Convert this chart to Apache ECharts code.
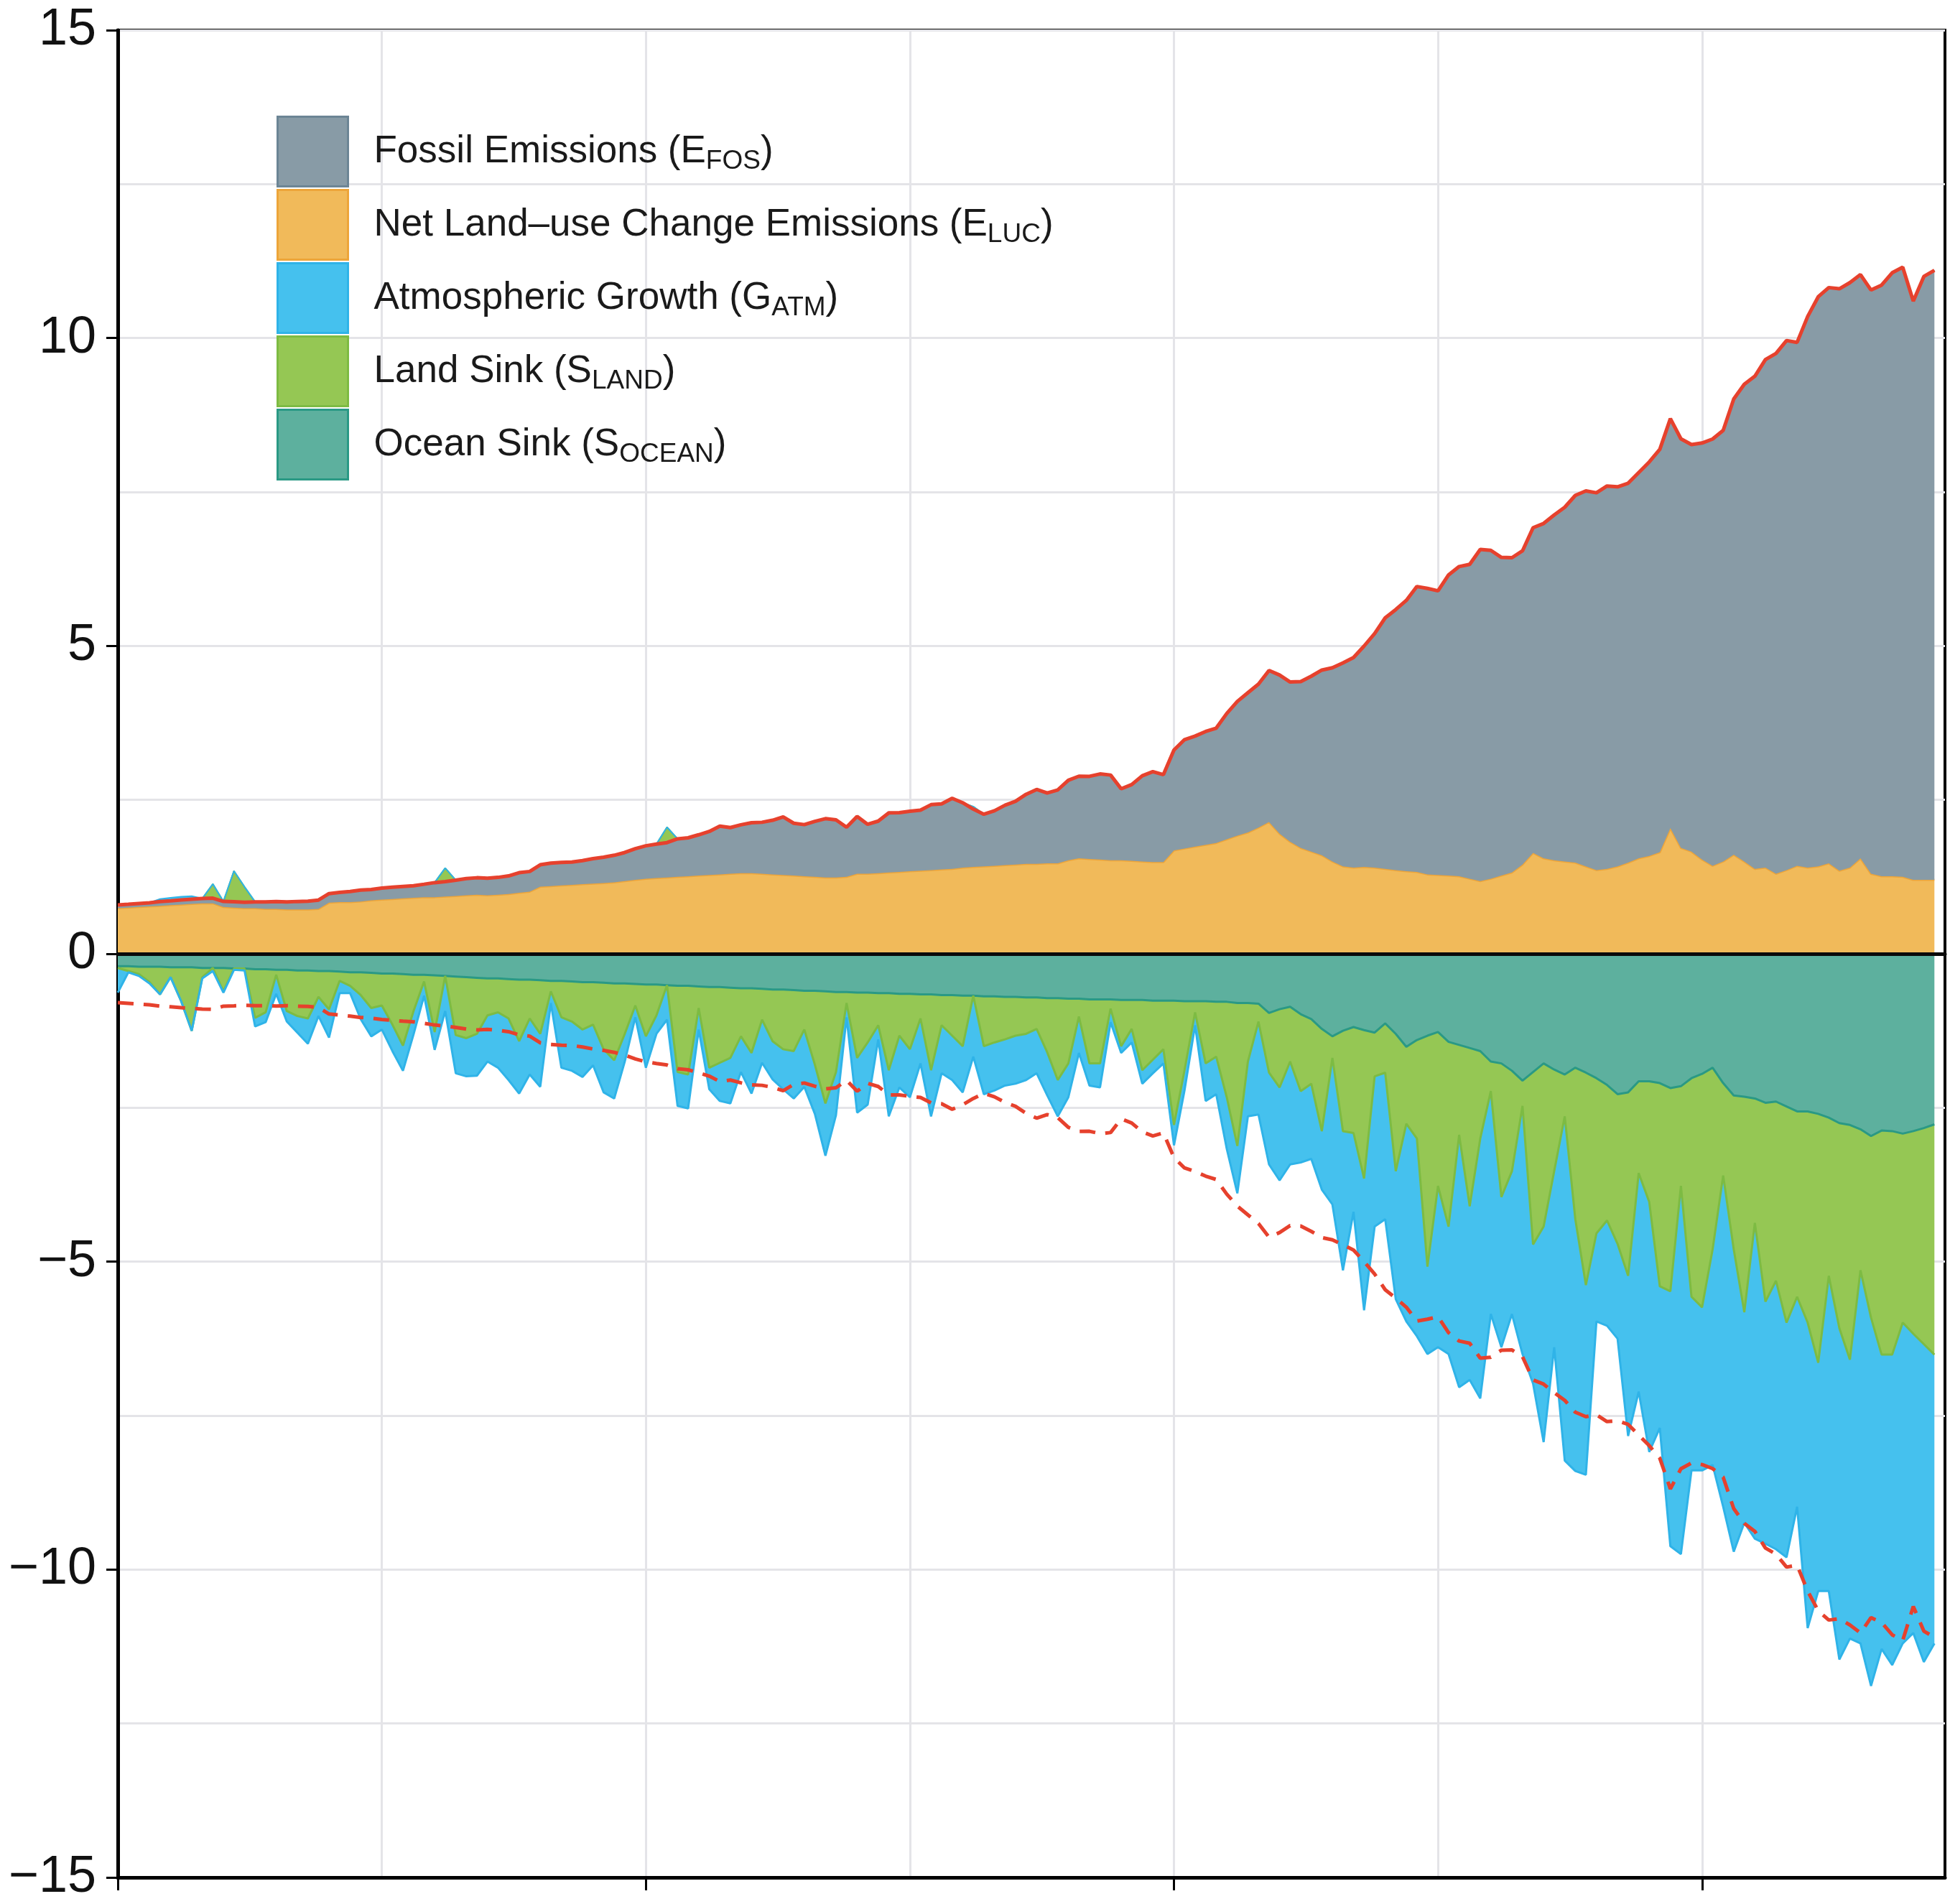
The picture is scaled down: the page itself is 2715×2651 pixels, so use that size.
<!DOCTYPE html>
<html>
<head>
<meta charset="utf-8">
<script src="https://cdn.jsdelivr.net/npm/echarts/dist/echarts.min.js"></script>
<style>
html,body{margin:0;padding:0;background:#ffffff;}
#chart{width:2715px;height:2651px;}
</style>
</head>
<body>
<div id="chart"></div>
<script>
// ---- categories (years 1850..2023; data run 1850..2022) ----
const years = [];
for (let y = 1850; y <= 2023; y++) years.push(String(y));

// ---- Fossil emissions E_FOS (GtC/yr), 1850..2022 ----
const fossil = [
0.054,0.054,0.057,0.059,0.069,0.071,0.076,0.077,0.078,0.083,
0.091,0.095,0.097,0.104,0.112,0.119,0.122,0.130,0.135,0.142,
0.147,0.156,0.173,0.184,0.174,0.188,0.191,0.194,0.196,0.210,
0.236,0.243,0.256,0.272,0.275,0.277,0.281,0.295,0.327,0.327,
0.356,0.372,0.374,0.370,0.383,0.406,0.419,0.440,0.465,0.507,
0.534,0.552,0.566,0.617,0.624,0.663,0.707,0.784,0.750,0.785,
0.819,0.836,0.879,0.943,0.850,0.838,0.901,0.955,0.936,0.806,
0.932,0.803,0.845,0.970,0.963,0.975,0.983,1.062,1.065,1.145,
1.053,0.940,0.847,0.893,0.973,1.027,1.130,1.209,1.142,1.192,
1.299,1.334,1.342,1.391,1.383,1.160,1.238,1.392,1.469,1.419,
1.630,1.768,1.796,1.841,1.865,2.043,2.178,2.270,2.330,2.462,
2.577,2.594,2.700,2.848,3.008,3.145,3.305,3.411,3.588,3.800,
4.076,4.231,4.399,4.635,4.644,4.615,4.883,5.029,5.105,5.387,
5.332,5.168,5.113,5.094,5.280,5.439,5.607,5.752,5.965,6.097,
6.127,6.217,6.164,6.162,6.266,6.398,6.542,6.651,6.643,6.610,
6.765,6.930,7.000,7.400,7.750,8.000,8.250,8.450,8.600,8.500,
8.950,9.250,9.350,9.450,9.500,9.480,9.480,9.600,9.800,9.900,
9.400,9.800,9.900];

// ---- Net land-use change emissions E_LUC ----
const landUse = [
0.74,0.75,0.76,0.77,0.78,0.79,0.80,0.81,0.82,0.82,
0.76,0.75,0.74,0.74,0.73,0.73,0.72,0.72,0.72,0.73,
0.83,0.84,0.84,0.85,0.87,0.88,0.89,0.90,0.91,0.92,
0.92,0.93,0.94,0.95,0.96,0.95,0.96,0.97,0.99,1.01,
1.09,1.10,1.11,1.12,1.13,1.14,1.15,1.16,1.18,1.20,
1.22,1.23,1.24,1.25,1.26,1.27,1.28,1.29,1.30,1.31,
1.31,1.30,1.29,1.28,1.27,1.26,1.25,1.24,1.24,1.25,
1.30,1.30,1.31,1.32,1.33,1.34,1.35,1.36,1.37,1.38,
1.40,1.41,1.42,1.43,1.44,1.45,1.46,1.46,1.47,1.47,
1.52,1.55,1.54,1.53,1.52,1.52,1.51,1.50,1.49,1.49,
1.68,1.71,1.74,1.77,1.80,1.86,1.92,1.97,2.05,2.14,
1.95,1.82,1.72,1.66,1.60,1.50,1.42,1.40,1.41,1.40,
1.38,1.36,1.34,1.33,1.29,1.28,1.27,1.26,1.22,1.18,
1.22,1.27,1.32,1.45,1.64,1.55,1.52,1.50,1.48,1.42,
1.36,1.38,1.42,1.48,1.55,1.59,1.65,2.04,1.72,1.66,
1.53,1.43,1.50,1.61,1.50,1.38,1.40,1.30,1.36,1.43,
1.40,1.42,1.47,1.35,1.40,1.55,1.30,1.26,1.26,1.25,
1.20,1.20,1.20];

// ---- Ocean sink S_OCEAN (plotted negative) ----
const ocean = [
-0.20,-0.20,-0.21,-0.21,-0.21,-0.22,-0.22,-0.22,-0.23,-0.23,
-0.23,-0.24,-0.24,-0.25,-0.25,-0.26,-0.26,-0.27,-0.27,-0.28,
-0.28,-0.29,-0.30,-0.30,-0.31,-0.32,-0.32,-0.33,-0.34,-0.34,
-0.35,-0.36,-0.37,-0.38,-0.39,-0.40,-0.40,-0.41,-0.42,-0.42,
-0.43,-0.44,-0.44,-0.45,-0.46,-0.46,-0.47,-0.48,-0.48,-0.49,
-0.50,-0.50,-0.51,-0.52,-0.52,-0.53,-0.54,-0.54,-0.55,-0.56,
-0.56,-0.57,-0.58,-0.58,-0.59,-0.60,-0.60,-0.61,-0.62,-0.62,
-0.63,-0.63,-0.64,-0.64,-0.65,-0.65,-0.66,-0.66,-0.67,-0.67,
-0.68,-0.68,-0.69,-0.69,-0.70,-0.70,-0.71,-0.71,-0.72,-0.72,
-0.73,-0.73,-0.74,-0.74,-0.74,-0.75,-0.75,-0.75,-0.76,-0.76,
-0.76,-0.77,-0.77,-0.77,-0.78,-0.78,-0.80,-0.80,-0.81,-0.96,
-0.90,-0.86,-0.98,-1.06,-1.22,-1.34,-1.25,-1.19,-1.24,-1.28,
-1.13,-1.30,-1.51,-1.40,-1.33,-1.27,-1.43,-1.48,-1.53,-1.58,
-1.75,-1.78,-1.90,-2.06,-1.92,-1.78,-1.88,-1.96,-1.85,-1.93,
-2.02,-2.13,-2.28,-2.25,-2.07,-2.07,-2.10,-2.18,-2.15,-2.02,
-1.95,-1.85,-2.10,-2.30,-2.32,-2.35,-2.42,-2.40,-2.48,-2.56,
-2.56,-2.60,-2.66,-2.75,-2.78,-2.85,-2.96,-2.87,-2.88,-2.92,
-2.88,-2.83,-2.77];

// ---- Land sink S_LAND (negative = sink, positive years drawn on top) ----
const land = [
-0.03,-0.08,-0.12,-0.25,-0.45,-0.16,-0.55,-1.03,-0.15,0.23,
-0.38,0.50,0.25,-0.79,-0.70,-0.08,-0.67,-0.74,-0.78,-0.42,
-0.62,-0.15,-0.22,-0.37,-0.57,-0.52,-0.83,-1.16,-0.59,-0.11,
-0.92,0.22,-0.95,-0.99,-0.91,-0.60,-0.55,-0.64,-1.00,-0.63,
-0.87,-0.17,-0.59,-0.65,-0.77,-0.69,-1.08,-1.25,-0.82,-0.35,
-0.84,-0.50,0.25,-1.40,-1.44,-0.35,-1.31,-1.23,-1.14,-0.78,
-1.05,-0.50,-0.84,-0.97,-0.99,-0.63,-1.20,-1.82,-1.30,-0.18,
-1.06,-0.81,-0.52,-1.25,-0.68,-0.90,-0.39,-1.23,-0.49,-0.66,
-0.82,0.04,-0.81,-0.75,-0.69,-0.63,-0.59,-0.51,-0.88,-1.33,
-1.05,-0.29,-1.04,-1.04,-0.15,-0.75,-0.47,-1.14,-0.96,-0.79,
-2.02,-1.12,-0.18,-1.01,-0.89,-1.55,-2.32,-0.95,-0.29,-0.97,
-1.27,-0.89,-1.25,-1.05,-1.66,-0.35,-1.63,-1.72,-2.41,-0.71,
-0.80,-2.23,-1.25,-1.60,-3.75,-2.50,-3.00,-1.46,-2.57,-1.42,
-0.48,-2.17,-1.63,-0.41,-2.80,-2.65,-1.65,-0.68,-2.46,-3.45,
-2.52,-2.20,-2.43,-2.98,-1.49,-1.96,-3.30,-3.30,-1.62,-3.55,
-3.79,-2.95,-1.50,-2.50,-3.50,-2.02,-3.23,-2.91,-3.51,-3.01,
-3.43,-4.04,-2.57,-3.33,-3.81,-2.29,-2.95,-3.64,-3.63,-3.07,
-3.29,-3.51,-3.74];

// ---- Atmospheric growth G_ATM (plotted negative) ----
const atmosphere = [
-0.40,-0.02,-0.03,-0.02,0.04,0.05,0.05,0.05,-0.02,-0.05,
-0.02,-0.02,-0.03,-0.14,-0.16,-0.31,-0.17,-0.27,-0.41,-0.31,
-0.46,-0.20,-0.12,-0.39,-0.46,-0.39,-0.43,-0.41,-0.38,-0.23,
-0.29,-0.57,-0.62,-0.62,-0.68,-0.75,-0.90,-1.00,-0.85,-0.91,
-0.86,-0.19,-0.82,-0.80,-0.77,-0.66,-0.70,-0.62,-0.45,-0.19,
-0.51,-0.30,-0.56,-0.55,-0.55,-0.35,-0.35,-0.62,-0.74,-0.58,
-0.66,-0.70,-0.62,-0.65,-0.77,-0.93,-0.80,-0.85,-0.70,-0.23,
-0.89,-1.01,-0.23,-0.75,-0.84,-0.78,-0.73,-0.75,-0.78,-0.72,
-0.75,-0.99,-0.78,-0.78,-0.75,-0.78,-0.75,-0.72,-0.70,-0.59,
-0.55,-0.59,-0.36,-0.39,-0.22,-0.11,-0.22,-0.22,-0.22,-0.23,
-0.33,-0.33,-0.21,-0.61,-0.61,-0.84,-0.77,-0.89,-1.51,-1.49,
-1.51,-1.67,-1.16,-1.22,-0.95,-2.38,-2.26,-1.28,-2.14,-2.44,
-2.38,-2.08,-3.21,-3.21,-1.42,-2.62,-2.07,-4.10,-2.82,-4.22,
-3.62,-2.44,-2.32,-4.03,-2.26,-3.50,-2.86,-5.59,-4.09,-3.08,
-1.43,-1.71,-1.54,-2.60,-3.55,-4.06,-2.30,-4.14,-5.98,-2.82,
-2.65,-3.50,-5.38,-4.91,-3.42,-5.13,-3.93,-4.36,-3.81,-3.41,
-4.96,-3.71,-5.12,-5.38,-4.53,-6.06,-5.98,-4.78,-5.04,-5.21,
-4.86,-5.16,-4.69];

// ---- tick labels ----
const yTickValues = [-15, -10, -5, 0, 5, 10, 15];
const legendLabels = {
  fos: 'Fossil Emissions (E{s|FOS})',
  luc: 'Net Land\u2013use Change Emissions (E{s|LUC})',
  atm: 'Atmospheric Growth (G{s|ATM})',
  land: 'Land Sink (S{s|LAND})',
  ocean: 'Ocean Sink (S{s|OCEAN})'
};

// ---- derived (stack split by sign, mirrored total) ----
const totalNeg = fossil.map((v, i) => -(v + landUse[i]));
const landPos = land.map(v => v > 0 ? v : 0);
const landNeg = land.map(v => v < 0 ? v : 0);
const atmPos = atmosphere.map(v => v > 0 ? v : 0);
const atmNeg = atmosphere.map(v => v < 0 ? v : 0);

const FONT = 'Liberation Sans, Arial, Helvetica, sans-serif';
const C = {
  fos: '#889BA6', fosB: '#6C8595',
  luc: '#F1BA5A', lucB: '#EDA53A',
  atm: '#45C1EE', atmB: '#2FB3E8',
  land: '#95C754', landB: '#7DBB43',
  ocean: '#5DB09E', oceanB: '#2A9985',
  red: '#E6412D', grid: '#E4E4E8'
};

function area(name, data, fill, edge, lw, z) {
  return {
    name: name, type: 'line', stack: 'budget', data: data,
    xAxisIndex: 0, yAxisIndex: 0,
    symbol: 'none', showSymbol: false, smooth: false,
    z: z || 2,
    itemStyle: { color: fill },
    lineStyle: { color: edge, width: lw },
    areaStyle: { color: fill, opacity: 1 },
    emphasis: { disabled: true },
    silent: true
  };
}

const chart = echarts.init(document.getElementById('chart'), null, { renderer: 'canvas', width: 2715, height: 2651 });

const catAxisBase = {
  type: 'category', data: years, boundaryGap: false, position: 'bottom',
  axisLabel: { show: false }, splitLine: { show: false }, axisTick: { show: false },
  axisLine: { show: false, onZero: false }
};

chart.setOption({
  animation: false,
  backgroundColor: '#ffffff',
  grid: {
    left: 164, right: 7, top: 42, bottom: 37,
    containLabel: false, outerBoundsMode: 'none',
    show: true, borderColor: '#000000', borderWidth: 4, backgroundColor: '#ffffff'
  },
  legend: {
    orient: 'vertical', left: 385, top: 161, padding: 0,
    itemWidth: 98, itemHeight: 97, itemGap: 2,
    icon: 'rect', selectedMode: false,
    data: [
      { name: 'fos', itemStyle: { color: C.fos, borderColor: C.fosB, borderWidth: 3 } },
      { name: 'luc', itemStyle: { color: C.luc, borderColor: C.lucB, borderWidth: 3 } },
      { name: 'atm', itemStyle: { color: C.atm, borderColor: C.atmB, borderWidth: 3 } },
      { name: 'land', itemStyle: { color: C.land, borderColor: C.landB, borderWidth: 3 } },
      { name: 'ocean', itemStyle: { color: C.ocean, borderColor: C.oceanB, borderWidth: 3 } }
    ],
    formatter: function (n) { return legendLabels[n]; },
    textStyle: {
      fontFamily: FONT, fontSize: 53, color: '#1a1a1a', lineHeight: 64,
      padding: [0, 0, 0, 31],
      rich: { s: { fontFamily: FONT, fontSize: 37, color: '#1a1a1a', lineHeight: 30, verticalAlign: 'bottom' } }
    }
  },
  xAxis: [
    Object.assign({}, catAxisBase, {
      splitLine: { show: true, interval: function (i, v) { return (+v) % 25 === 0; },
                   lineStyle: { color: C.grid, width: 3 } }
    }),
    Object.assign({}, catAxisBase, {
      axisLine: { show: true, onZero: false, lineStyle: { color: '#000000', width: 5 } },
      axisTick: { show: true, inside: false, length: 18, interval: function (i, v) { return (+v) % 50 === 0; },
                  lineStyle: { color: '#000000', width: 3 } }
    }),
    Object.assign({}, catAxisBase, {
      z: 10,
      axisLine: { show: true, onZero: true, onZeroAxisIndex: 0, lineStyle: { color: '#0a0a0a', width: 5 } }
    })
  ],
  yAxis: [
    {
      type: 'value', min: -15, max: 15, interval: 2.5, position: 'left',
      axisLine: { show: false }, axisTick: { show: false }, axisLabel: { show: false },
      splitLine: { show: true, lineStyle: { color: C.grid, width: 3 } }
    },
    {
      type: 'value', min: yTickValues[0], max: yTickValues[yTickValues.length - 1], interval: 5, position: 'left',
      axisLine: { show: true, onZero: false, lineStyle: { color: '#000000', width: 5 } },
      axisTick: { show: true, inside: false, length: 16, lineStyle: { color: '#000000', width: 3 } },
      axisLabel: {
        show: true, margin: 30, fontSize: 72, fontFamily: FONT, color: '#111111',
        formatter: function (v) { return v < 0 ? '\u2212' + (-v) : String(v); }
      },
      splitLine: { show: false }
    }
  ],
  series: [
    area('luc', landUse, C.luc, C.lucB, 3, 2),
    area('fos', fossil, C.fos, C.red, 5, 4),
    area('land', landPos, C.land, C.landB, 2, 2),
    area('atm', atmPos, C.atm, C.atmB, 2, 2),
    area('ocean', ocean, C.ocean, C.oceanB, 3, 2),
    area('land', landNeg, C.land, C.landB, 3, 2),
    area('atm', atmNeg, C.atm, C.atmB, 3, 2),
    {
      name: 'total', type: 'line', data: totalNeg, xAxisIndex: 0, yAxisIndex: 0,
      symbol: 'none', showSymbol: false, smooth: false, z: 5, silent: true,
      lineStyle: { color: C.red, width: 5, type: [22, 14] },
      emphasis: { disabled: true }
    }
  ]
});
</script>
</body>
</html>
